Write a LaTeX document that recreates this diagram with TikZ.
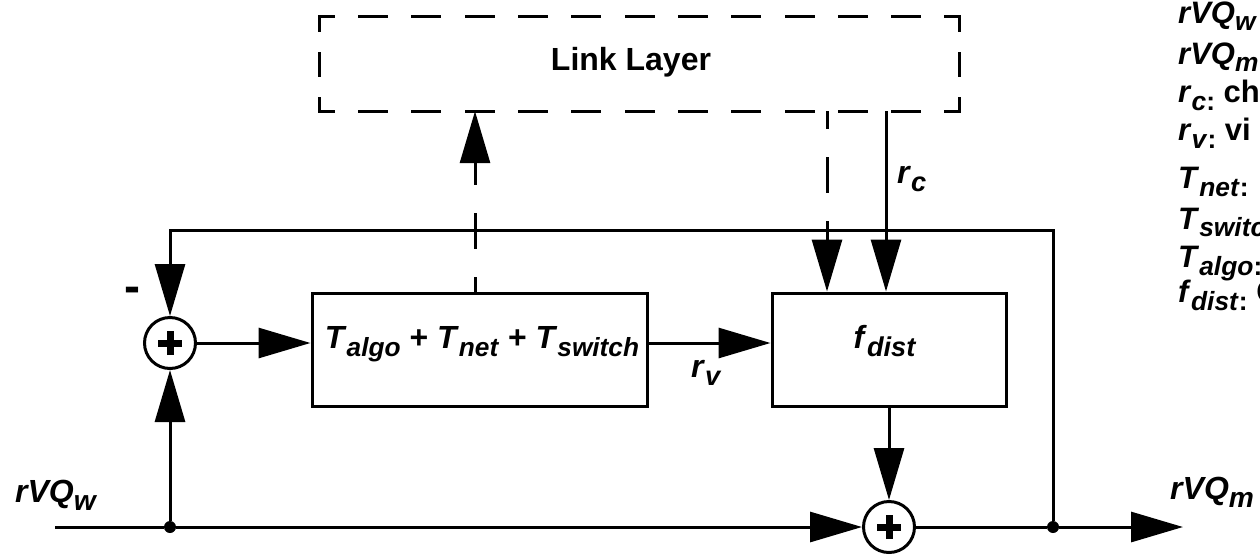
\documentclass[tikz,border=0pt]{standalone}
\usepackage{fontspec}
\setmainfont{Liberation Sans}
\usetikzlibrary{arrows.meta}
% italic symbol with a lowered, smaller italic subscript
\newcommand\vsub[3][0.8]{\textit{#2}\raisebox{-0.25em}{\scalebox{#1}{\textit{#3}}}}
% legend entry: symbol, subscript and colon set low
\newcommand\lgd[2]{\textit{#1}\raisebox{-0.28em}{\scalebox{0.85}{\textit{#2}\textup{:}}}}

\begin{document}
\begin{tikzpicture}[x=1pt,y=-1pt,
  wire/.style={line width=3pt},
  flow/.style={wire,-{Triangle[length=52pt,width=30pt]}},
  dashflow/.style={flow,dash pattern=on 36pt off 28pt},
  lledgeh/.style={wire,line cap=rect,dash pattern=on 27pt off 26.3pt,dash phase=13.5pt},
  lledgev/.style={wire,line cap=rect,dash pattern=on 22pt off 23pt,dash phase=8.5pt},
  block/.style={draw,line width=3pt,minimum height=113pt,inner sep=0pt},
  summer/.style={circle,draw,line width=3pt,minimum size=51pt,inner sep=0pt},
  plusbar/.style={line width=7pt},
  junction/.style={circle,fill,minimum size=12pt,inner sep=0pt},
  boxtext/.style={font=\fontsize{32}{38}\selectfont\bfseries,inner sep=0pt},
  lab/.style={font=\fontsize{32}{38}\selectfont\bfseries,inner sep=0pt,anchor=base west},
  legend/.style={font=\fontsize{31}{36}\selectfont\bfseries,inner sep=0pt,anchor=base west},
]
\path[use as bounding box] (0,0) rectangle (1260,555);
\clip (0,0) rectangle (1260,555);

% blocks
\node[minimum width=639pt,minimum height=94pt,inner sep=0pt] (link) at (639.5,64) {};
\node[boxtext,anchor=base] (linktxt) at (631,70) {Link Layer};
\node[block,minimum width=335pt] (algo) at (479.5,349.5) {};
\node[boxtext,anchor=base] (algotxt) at (482,348) {\vsub[0.82]{T}{algo} + \vsub[0.82]{T}{net} + \vsub[0.82]{T}{switch}};
\node[block,minimum width=234pt] (fdist) at (889,349.5) {};
\node[boxtext,anchor=base] (fdisttxt) at (885,348) {\vsub[0.85]{f}{dist}};

% dashed outline of the link layer
\draw[lledgeh] (link.north west) -- (link.north east);
\draw[lledgeh] (link.south west) -- (link.south east);
\draw[lledgev] (link.north west) -- (link.south west);
\draw[lledgev] (link.north east) -- (link.south east);

% summing junctions
\node[summer] (sumL) at (170,343) {};
\draw[plusbar] ([xshift=-12pt]sumL.center) -- ([xshift=12pt]sumL.center);
\draw[plusbar] ([yshift=-12pt]sumL.center) -- ([yshift=12pt]sumL.center);
\node[summer] (sumB) at (889,527) {};
\draw[plusbar] ([xshift=-12pt]sumB.center) -- ([xshift=12pt]sumB.center);
\draw[plusbar] ([yshift=-12pt]sumB.center) -- ([yshift=12pt]sumB.center);

% branch points and free ends
\node[junction] (dotL) at (170,527) {};
\node[junction] (dotR) at (1053,527) {};
\coordinate (inL) at (55,527);
\coordinate (outR) at (1183,527);
\coordinate (fbR) at (1053,230);
\coordinate (fbL) at (170,230);

% signal paths
\draw[wire] (inL) -- (dotL);
\draw[flow] (dotL) -- (sumB);
\draw[flow] (dotL) -- (sumL);
\draw[flow] (dotR) -- (fbR) -- (fbL) -- (sumL);
\draw[flow] (sumL.east) -- (sumL.east -| algo.west);
\draw[flow] (algo.east |- sumL.east) -- (fdist.west |- sumL.east);
\draw[flow] (fdist.south) -- (sumB.north);
\draw[wire] (sumB.east) -- (dotR);
\draw[flow] (dotR) -- (outR);

% link layer connections
\draw[dashflow,dash phase=21pt] ([xshift=-4.5pt]algo.north) -- ([xshift=-4.5pt]algo.north |- link.south);
\draw[dashflow,dash phase=18pt] ([xshift=-62pt]fdist.north |- link.south) -- ([xshift=-62pt]fdist.north);
\draw[flow] ([xshift=-3pt]fdist.north |- link.south) -- ([xshift=-3pt]fdist.north);

% signal labels
\node[font=\fontsize{48}{48}\selectfont\bfseries,inner sep=0pt,anchor=base] (minus) at (132,302) {-};
\node[lab] (rc) at (897,183) {\vsub[0.85]{r}{c}};
\node[lab] (rv) at (691,377) {\vsub[0.85]{r}{v}};
\node[lab] (rvqw) at (15,502) {\vsub[0.88]{rVQ}{w}};
\node[lab] (rvqm) at (1170,499) {\vsub[0.88]{rVQ}{m}};

% legend
\node[legend] (lg1) at (1178,23) {\vsub[0.85]{rVQ}{w}};
\node[legend] (lg2) at (1178,64) {\vsub[0.85]{rVQ}{m}};
\node[legend] (lg3) at (1178,102) {\lgd{r}{c} ch};
\node[legend] (lg4) at (1178,140) {\lgd{r}{v} vi};
\node[legend] (lg5) at (1178,188) {\lgd{T}{net}};
\node[legend] (lg6) at (1178,229) {\vsub[0.85]{T}{switch}};
\node[legend] (lg7) at (1178,267) {\lgd{T}{algo}};
\node[legend] (lg8) at (1178,302) {\lgd{f}{dist} C};
\end{tikzpicture}
\end{document}
